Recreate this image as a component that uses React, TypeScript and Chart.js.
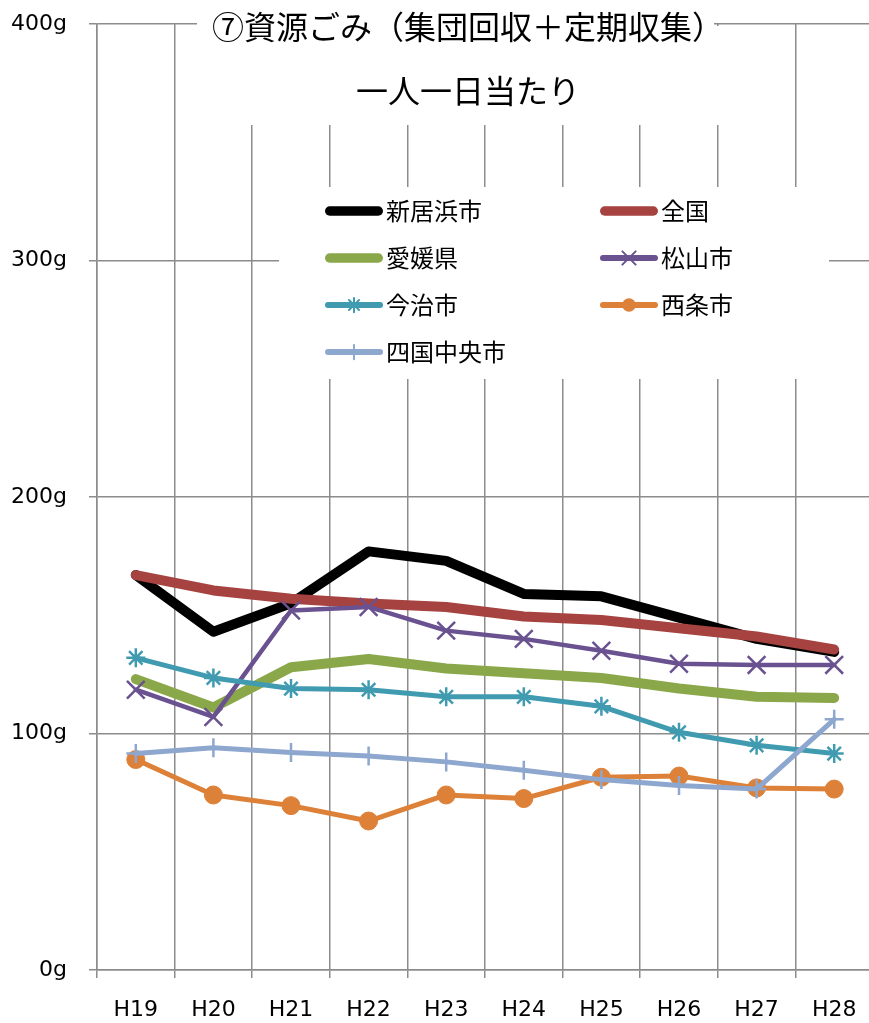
import React, { useEffect, useRef } from "react";
import { Chart, registerables } from "chart.js";

Chart.register(...registerables);

// 年度
const categories = ["H19", "H20", "H21", "H22", "H23", "H24", "H25", "H26", "H27", "H28"];

// 一人一日当たりの資源ごみ量 (g)
const niihama = [167, 143, 155, 177, 173, 159, 158, 149, 140, 134.5];
const zenkoku = [167, 160.5, 157, 155, 153.5, 149.5, 148, 144.5, 141, 135.5];
const ehime = [123, 111, 128, 131.5, 127.5, 125.5, 123.5, 119, 115.5, 115];
const matsuyama = [118.5, 107, 152, 153.5, 143.5, 140, 135, 129.5, 129, 129];
const imabari = [132, 123.5, 119, 118.5, 115.5, 115.5, 111.5, 100.5, 95, 91.5];
const saijo = [89, 74, 69.5, 63, 74, 72.5, 81.5, 82, 77, 76.5];
const shikokuchuo = [91.5, 94, 92, 90.5, 88, 84.5, 80.5, 78, 76.5, 106];

const seriesNames = ["新居浜市", "全国", "愛媛県", "松山市", "今治市", "西条市", "四国中央市"];

const yTicks = [0, 100, 200, 300, 400];
const yUnit = "g";

const TITLE = "⑦資源ごみ（集団回収＋定期収集）";
const SUBTITLE = "一人一日当たり";

const CANVAS_W = 890;
const CANVAS_H = 1023;
const GRID = "#8c8c8c";
const LATIN = "'DejaVu Sans', 'Noto Sans CJK JP', sans-serif";
const CJK = "'Noto Sans CJK JP', 'Noto Sans CJK SC', sans-serif";

type Style = { color: string; width: number; point: string | false; radius: number };

const styles: Style[] = [
  { color: "#000000", width: 10, point: false, radius: 0 },
  { color: "#A6423F", width: 10, point: false, radius: 0 },
  { color: "#8AA84A", width: 10, point: false, radius: 0 },
  { color: "#6A5190", width: 4.5, point: "crossRot", radius: 12.5 },
  { color: "#409BB1", width: 5, point: "star", radius: 9.5 },
  { color: "#DD8038", width: 5, point: "circle", radius: 9 },
  { color: "#8EA7CE", width: 5, point: "cross", radius: 9.5 },
];

const seriesValues = [niihama, zenkoku, ehime, matsuyama, imabari, saijo, shikokuchuo];

function drawMarker(
  ctx: CanvasRenderingContext2D,
  style: string,
  x: number,
  y: number,
  r: number,
  color: string
) {
  ctx.save();
  ctx.strokeStyle = color;
  ctx.fillStyle = color;
  ctx.lineWidth = 2;
  ctx.beginPath();
  const d = r * Math.SQRT1_2;
  if (style === "circle") {
    ctx.arc(x, y, r, 0, Math.PI * 2);
    ctx.fill();
  } else if (style === "cross") {
    ctx.moveTo(x - r, y);
    ctx.lineTo(x + r, y);
    ctx.moveTo(x, y - r);
    ctx.lineTo(x, y + r);
    ctx.stroke();
  } else if (style === "crossRot") {
    ctx.moveTo(x - d, y - d);
    ctx.lineTo(x + d, y + d);
    ctx.moveTo(x + d, y - d);
    ctx.lineTo(x - d, y + d);
    ctx.stroke();
  } else if (style === "star") {
    ctx.moveTo(x - r, y);
    ctx.lineTo(x + r, y);
    ctx.moveTo(x, y - r);
    ctx.lineTo(x, y + r);
    ctx.moveTo(x - d, y - d);
    ctx.lineTo(x + d, y + d);
    ctx.moveTo(x + d, y - d);
    ctx.lineTo(x - d, y + d);
    ctx.stroke();
  }
  ctx.restore();
}

// Title boxes and the in-plot legend, painted over the grid
const overlayPlugin = {
  id: "overlay",
  afterDraw(chart: any) {
    const ctx: CanvasRenderingContext2D = chart.ctx;
    ctx.save();
    ctx.fillStyle = "#ffffff";
    ctx.fillRect(197, 0, 517, 56);
    ctx.fillRect(232, 26, 506, 99);
    ctx.fillRect(279, 187, 550, 192);

    ctx.fillStyle = "#000000";
    ctx.textAlign = "center";
    ctx.textBaseline = "middle";
    ctx.font = `32px ${CJK}`;
    ctx.fillText(TITLE, 468, 27);
    ctx.fillText(SUBTITLE, 468, 91);

    const cols = [325, 600];
    const rows = [211, 258, 305, 352];
    const lineLen = 58;
    ctx.lineCap = "round";
    chart.data.datasets.forEach((ds: any, i: number) => {
      const st = styles[i];
      const x0 = cols[i % 2];
      const y = rows[Math.floor(i / 2)];
      ctx.strokeStyle = st.color;
      ctx.lineWidth = st.width === 10 ? 9.5 : 6;
      ctx.beginPath();
      ctx.moveTo(x0 + ctx.lineWidth / 2, y);
      ctx.lineTo(x0 + lineLen - ctx.lineWidth / 2, y);
      ctx.stroke();
      if (st.point) {
        drawMarker(ctx, st.point as string, x0 + lineLen / 2, y, st.radius * 0.75, st.color);
      }
      ctx.fillStyle = "#000000";
      ctx.textAlign = "left";
      ctx.textBaseline = "middle";
      ctx.font = `24px ${CJK}`;
      ctx.fillText(ds.label, x0 + lineLen + 3, y);
    });
    ctx.restore();
  },
};

export default function App() {
  const canvasRef = useRef<HTMLCanvasElement | null>(null);

  useEffect(() => {
    const canvas = canvasRef.current;
    if (!canvas) return;

    // later series sit on top of earlier ones
    const datasets = seriesNames.map((name, i) => {
      const st = styles[i];
      return {
        label: name,
        data: seriesValues[i],
        borderColor: st.color,
        backgroundColor: st.color,
        borderWidth: st.width,
        borderJoinStyle: "round" as const,
        borderCapStyle: "round" as const,
        tension: 0,
        pointStyle: st.point ? (st.point as any) : false,
        pointRadius: st.radius,
        pointBorderColor: st.color,
        pointBackgroundColor: st.color,
        pointBorderWidth: st.point === "circle" ? 1 : 2.5,
        order: seriesNames.length - i,
      };
    });

    const chart = new Chart(canvas, {
      type: "line",
      data: { labels: categories, datasets },
      options: {
        responsive: false,
        animation: false,
        devicePixelRatio: 1,
        layout: { padding: { top: 24, right: CANVAS_W - 873, left: 0, bottom: 0 } },
        plugins: {
          legend: { display: false },
          title: { display: false },
          tooltip: { enabled: false },
        },
        scales: {
          x: {
            offset: true,
            grid: { offset: true, color: GRID, lineWidth: 1.5, tickLength: 8, tickColor: GRID },
            border: { display: true, color: GRID, width: 1.5 },
            ticks: {
              color: "#000000",
              font: { family: LATIN, size: 22 },
              padding: 19,
              maxRotation: 0,
              autoSkip: false,
            },
            afterFit: (s: any) => {
              s.height = 53;
              s.paddingLeft = 0;
              s.paddingRight = 0;
            },
          },
          y: {
            min: yTicks[0],
            max: yTicks[yTicks.length - 1],
            afterBuildTicks: (s: any) => {
              s.ticks = yTicks.map((v) => ({ value: v }));
            },
            grid: { color: GRID, lineWidth: 1.5, tickLength: 8, tickColor: GRID },
            border: { display: true, color: GRID, width: 1.5 },
            ticks: {
              color: "#000000",
              font: { family: LATIN, size: 22 },
              padding: 22,
              callback: (v: any) => `${v}${yUnit}`,
            },
            afterFit: (s: any) => {
              s.width = 97;
              s.paddingTop = 0;
              s.paddingBottom = 0;
            },
          },
        },
      },
      plugins: [overlayPlugin],
    });

    return () => chart.destroy();
  }, []);

  return (
    <div
      style={{
        position: "absolute",
        left: 0,
        top: 0,
        width: 869,
        height: CANVAS_H,
        overflow: "hidden",
        background: "#ffffff",
      }}
    >
      <canvas
        ref={canvasRef}
        width={CANVAS_W}
        height={CANVAS_H}
        style={{ display: "block", width: CANVAS_W, height: CANVAS_H }}
      />
    </div>
  );
}
